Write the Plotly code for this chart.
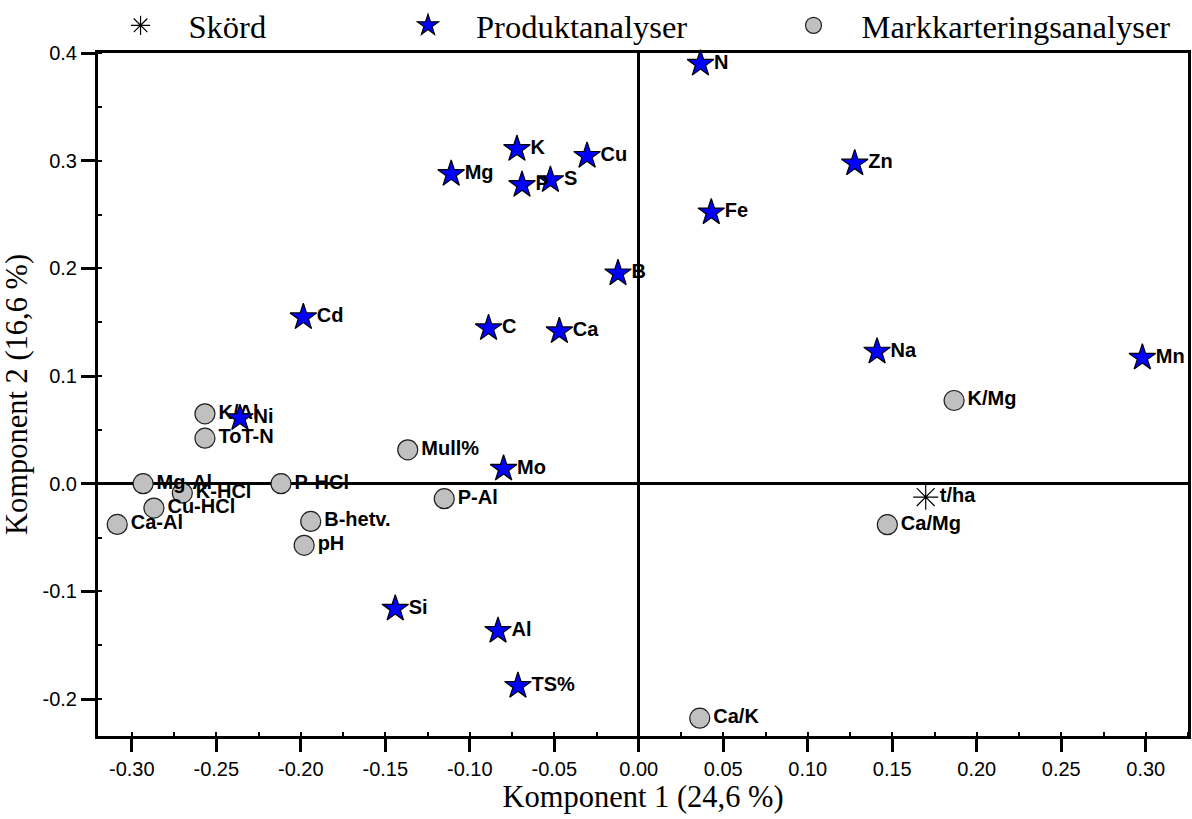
import plotly.graph_objects as go

# Produktanalyser (stars)
prod_names = ["N", "K", "Cu", "Mg", "P", "S", "B", "Zn", "Fe", "Cd", "C", "Ca", "Mo",
              "Ni", "Si", "Al", "TS%", "Na", "Mn"]
prod_x = [0.0365, -0.0721, -0.0306, -0.111, -0.0691, -0.0523, -0.0123, 0.1278, 0.0429,
          -0.1985, -0.0889, -0.047, -0.080, -0.236, -0.1441, -0.0833, -0.0715, 0.141, 0.298]
prod_y = [0.390, 0.3108, 0.3045, 0.2876, 0.2774, 0.282, 0.1954, 0.2974, 0.252,
          0.1546, 0.1444, 0.1416, 0.0139, 0.0609, -0.116, -0.1367, -0.1878, 0.1227, 0.117]

# Markkarteringsanalyser (circles)
mark_names = ["K/Al", "ToT-N", "Mg-Al", "K-HCl", "Cu-HCl", "Ca-Al", "P-HCl", "B-hetv.",
              "pH", "Mull%", "P-Al", "K/Mg", "Ca/Mg", "Ca/K"]
mark_x = [-0.2567, -0.2567, -0.2933, -0.2701, -0.2869, -0.3086, -0.2117, -0.1941,
          -0.198, -0.1367, -0.1151, 0.1866, 0.1471, 0.0361]
mark_y = [0.0649, 0.0423, 0.0, -0.0087, -0.0226, -0.0378, 0.0, -0.035,
          -0.0572, 0.0315, -0.0139, 0.0773, -0.038, -0.2177]

# Skörd (asterisk)
skord_names = ["t/ha"]
skord_x = [0.1698]
skord_y = [-0.0124]

x_ticks = [-0.30, -0.25, -0.20, -0.15, -0.10, -0.05, 0.00, 0.05, 0.10, 0.15, 0.20, 0.25, 0.30]
y_ticks = [-0.2, -0.1, 0.0, 0.1, 0.2, 0.3, 0.4]

label_font = dict(family="Liberation Sans, Arial", size=20, color="black", weight="bold")

fig = go.Figure()

# data traces
fig.add_trace(go.Scatter(
    x=mark_x, y=mark_y, text=mark_names, mode="markers+text", textposition="middle right",
    textfont=label_font, cliponaxis=False, showlegend=False, hoverinfo="skip",
    marker=dict(symbol="circle", size=20, color="#c0c0c0", line=dict(color="#202020", width=1.2))))
fig.add_trace(go.Scatter(
    x=prod_x, y=prod_y, text=prod_names, mode="markers+text", textposition="middle right",
    textfont=label_font, cliponaxis=False, showlegend=False, hoverinfo="skip",
    marker=dict(symbol="star", size=20, color="#0000ff", line=dict(color="black", width=1.2))))
fig.add_trace(go.Scatter(
    x=skord_x, y=skord_y, text=skord_names, mode="markers+text", textposition="middle right",
    textfont=label_font, cliponaxis=False, showlegend=False, hoverinfo="skip",
    marker=dict(symbol="asterisk-open", size=21, color="black", line=dict(color="black", width=1.2))))

# legend entries
fig.add_trace(go.Scatter(x=[None], y=[None], mode="markers", name="Skörd", legend="legend",
    marker=dict(symbol="asterisk-open", size=16, color="black", line=dict(color="black", width=1.2))))
fig.add_trace(go.Scatter(x=[None], y=[None], mode="markers", name="Produktanalyser", legend="legend2",
    marker=dict(symbol="star", size=16, color="#0000ff", line=dict(color="black", width=1.2))))
fig.add_trace(go.Scatter(x=[None], y=[None], mode="markers", name="Markkarteringsanalyser", legend="legend3",
    marker=dict(symbol="circle", size=16, color="#c0c0c0", line=dict(color="#202020", width=1.2))))

leg_common = dict(orientation="h", yanchor="middle", y=1.04, xanchor="left",
                  itemwidth=86, bgcolor="rgba(0,0,0,0)", borderwidth=0,
                  font=dict(family="Liberation Serif, Times New Roman", size=32.5, color="black"))

fig.update_layout(
    width=1192, height=819,
    margin=dict(l=98, r=4, t=53, b=83, autoexpand=False),
    paper_bgcolor="white", plot_bgcolor="white",
    legend=dict(x=-0.005, **leg_common),
    legend2=dict(x=0.2587, **leg_common),
    legend3=dict(x=0.6124, **leg_common),
    xaxis=dict(
        range=[-0.32, 0.325], tickvals=x_ticks, ticktext=[f"{v:.2f}" for v in x_ticks],
        showgrid=False, zeroline=True, zerolinecolor="black", zerolinewidth=3,
        showline=True, mirror=True, linecolor="black", linewidth=3,
        ticks="outside", ticklen=13, tickwidth=2.5, tickcolor="black",
        minor=dict(dtick=0.025, tick0=0, ticks="inside", ticklen=4, tickwidth=1.5, tickcolor="black"),
        tickfont=dict(family="Liberation Sans, Arial", size=20, color="black"),
        title=dict(text="Komponent 1 (24,6 %)", standoff=4,
                   font=dict(family="Liberation Serif, Times New Roman", size=30.5, color="black")),
    ),
    yaxis=dict(
        range=[-0.2343, 0.4], tickvals=y_ticks, ticktext=[f"{v:.1f}" for v in y_ticks],
        showgrid=False, zeroline=True, zerolinecolor="black", zerolinewidth=3,
        showline=True, mirror=True, linecolor="black", linewidth=3,
        ticks="outside", ticklen=14, tickwidth=2.5, tickcolor="black",
        minor=dict(dtick=0.05, tick0=0, ticks="inside", ticklen=4, tickwidth=1.5, tickcolor="black"),
        tickfont=dict(family="Liberation Sans, Arial", size=20, color="black"),
        title=dict(text="Komponent 2 (16,6 %)", standoff=6,
                   font=dict(family="Liberation Serif, Times New Roman", size=30.5, color="black")),
    ),
)

fig.write_html("out.html", config={"displayModeBar": False},
               post_script="document.body.style.margin='0';document.body.style.overflow='hidden';")
